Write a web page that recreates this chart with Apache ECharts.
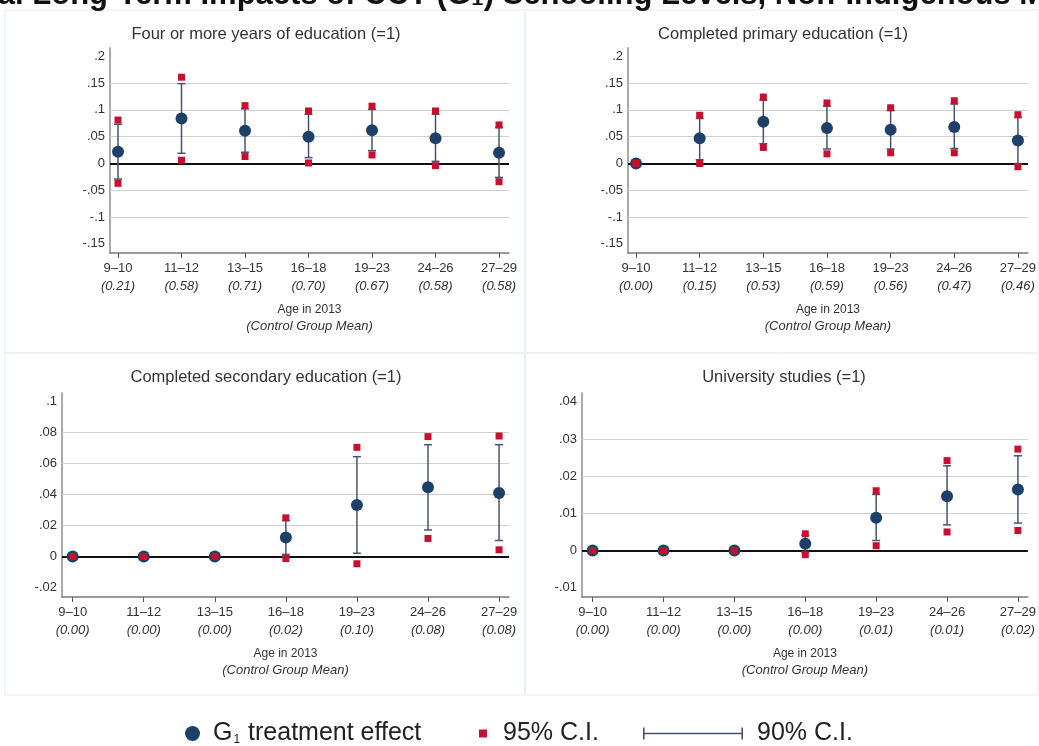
<!DOCTYPE html>
<html>
<head>
<meta charset="utf-8">
<script src="https://cdn.jsdelivr.net/npm/echarts@6/dist/echarts.min.js"></script>
<style>
  html, body { margin: 0; background: #fff; }
  #chart { width: 1039px; height: 746px; }
</style>
</head>
<body>
<div id="chart"></div>
<script>
const ages = ['9–10', '11–12', '13–15', '16–18', '19–23', '24–26', '27–29']
const agePos = [1, 2, 3, 4, 5, 6, 7]

// Four or more years of education (=1)
const fourEst  = [0.022, 0.084, 0.061, 0.050, 0.062, 0.047, 0.020]
const four95Lo = [-0.037, 0.006, 0.013, 0.001, 0.016, -0.004, -0.034]
const four95Hi = [0.081, 0.161, 0.108, 0.098, 0.107, 0.098, 0.072]
const four90Lo = [-0.029, 0.019, 0.021, 0.011, 0.024, 0.004, -0.026]
const four90Hi = [0.073, 0.149, 0.102, 0.092, 0.101, 0.092, 0.067]
const fourMean = ['0.21', '0.58', '0.71', '0.70', '0.67', '0.58', '0.58']

// Completed primary education (=1)
const primEst  = [0, 0.047, 0.078, 0.066, 0.063, 0.068, 0.043]
const prim95Lo = [0, 0.000, 0.030, 0.018, 0.020, 0.020, -0.006]
const prim95Hi = [0, 0.090, 0.124, 0.113, 0.104, 0.117, 0.091]
const prim90Lo = [0, 0.007, 0.037, 0.027, 0.027, 0.028, 0.000]
const prim90Hi = [0, 0.084, 0.118, 0.107, 0.099, 0.111, 0.086]
const primMean = ['0.00', '0.15', '0.53', '0.59', '0.56', '0.47', '0.46']

// Completed secondary education (=1)
const secEst  = [0, 0, 0, 0.0122, 0.0332, 0.0446, 0.0409]
const sec95Lo = [0, 0, 0, -0.0013, -0.0047, 0.0116, 0.0043]
const sec95Hi = [0, 0, 0, 0.0249, 0.0703, 0.0772, 0.0776]
const sec90Lo = [0, 0, 0, 0.0013, 0.0021, 0.0171, 0.0103]
const sec90Hi = [0, 0, 0, 0.0232, 0.0643, 0.0720, 0.0720]
const secMean = ['0.00', '0.00', '0.00', '0.02', '0.10', '0.08', '0.08']

// University studies (=1)
const uniEst  = [0, 0, 0, 0.0018, 0.0088, 0.0146, 0.0164]
const uni95Lo = [0, 0, 0, -0.0011, 0.0013, 0.0050, 0.0054]
const uni95Hi = [0, 0, 0, 0.0045, 0.0161, 0.0242, 0.0273]
const uni90Lo = [0, 0, 0, -0.0005, 0.0027, 0.0069, 0.0074]
const uni90Hi = [0, 0, 0, 0.0041, 0.0151, 0.0228, 0.0255]
const uniMean = ['0.00', '0.00', '0.00', '0.00', '0.01', '0.01', '0.02']

// y tick values and their Stata-style labels
const topTicks = [-0.15, -0.1, -0.05, 0, 0.05, 0.1, 0.15, 0.2]
const topTickLabels = ['-.15', '-.1', '-.05', '0', '.05', '.1', '.15', '.2']
const secTicks = [-0.02, 0, 0.02, 0.04, 0.06, 0.08, 0.1]
const secTickLabels = ['-.02', '0', '.02', '.04', '.06', '.08', '.1']
const uniTicks = [-0.01, 0, 0.01, 0.02, 0.03, 0.04]
const uniTickLabels = ['-.01', '0', '.01', '.02', '.03', '.04']

const NAVY = '#1c4068'
const RED = '#c8102e'
const BAR = '#47546f'
const FONT = '"Liberation Sans", Arial, sans-serif'

const panels = [
  { title: 'Four or more years of education (=1)', est: fourEst, lo95: four95Lo, hi95: four95Hi, lo90: four90Lo, hi90: four90Hi, mean: fourMean,
    ticks: topTicks, tickLabels: topTickLabels, ymin: -0.167, ymax: 0.2155, xmin: 0.874, xmax: 7.157,
    grid: { left: 110, right: 530, top: 48, bottom: 493 }, center: 266, titleTop: 26 },
  { title: 'Completed primary education (=1)', est: primEst, lo95: prim95Lo, hi95: prim95Hi, lo90: prim90Lo, hi90: prim90Hi, mean: primMean,
    ticks: topTicks, tickLabels: topTickLabels, ymin: -0.167, ymax: 0.2155, xmin: 0.874, xmax: 7.157,
    grid: { left: 628, right: 11, top: 48, bottom: 493 }, center: 783, titleTop: 26 },
  { title: 'Completed secondary education (=1)', est: secEst, lo95: sec95Lo, hi95: sec95Hi, lo90: sec90Lo, hi90: sec90Hi, mean: secMean,
    ticks: secTicks, tickLabels: secTickLabels, ymin: -0.0261, ymax: 0.1053, xmin: 0.85, xmax: 7.14,
    grid: { left: 62, right: 530, top: 393, bottom: 149 }, center: 266, titleTop: 369 },
  { title: 'University studies (=1)', est: uniEst, lo95: uni95Lo, hi95: uni95Hi, lo90: uni90Lo, hi90: uni90Hi, mean: uniMean,
    ticks: uniTicks, tickLabels: uniTickLabels, ymin: -0.0125, ymax: 0.0424, xmin: 0.85, xmax: 7.14,
    grid: { left: 582, right: 11, top: 393, bottom: 149 }, center: 784, titleTop: 369 }
]

const ciBar = (params, api) => {
  const x = api.value(0)
  const lo = api.coord([x, api.value(1)])
  const hi = api.coord([x, api.value(2)])
  const cap = 4
  const style = { stroke: BAR, lineWidth: 1.5 }
  return {
    type: 'group',
    children: [
      { type: 'line', shape: { x1: lo[0], y1: lo[1], x2: hi[0], y2: hi[1] }, style },
      { type: 'line', shape: { x1: lo[0] - cap, y1: lo[1], x2: lo[0] + cap, y2: lo[1] }, style },
      { type: 'line', shape: { x1: hi[0] - cap, y1: hi[1], x2: hi[0] + cap, y2: hi[1] }, style }
    ]
  }
}

const grids = []
const xAxes = []
const yAxes = []
const titles = []
const series = []

panels.forEach((p, i) => {
  grids.push(p.grid)
  titles.push({
    text: p.title, left: p.center, top: p.titleTop, textAlign: 'center', padding: 0,
    textStyle: { fontSize: 16.5, fontWeight: 'normal', color: '#333', fontFamily: FONT }
  })
  xAxes.push({
    gridIndex: i, type: 'value', min: p.xmin, max: p.xmax,
    axisLine: { onZero: false, lineStyle: { color: '#7a7a7a', width: 1.5 } },
    axisTick: { customValues: agePos, length: 5, lineStyle: { color: '#555' } },
    splitLine: { show: false },
    axisLabel: {
      customValues: agePos, margin: 6,
      formatter: v => '{n|' + ages[v - 1] + '}\n{i|(' + p.mean[v - 1] + ')}',
      rich: {
        n: { fontSize: 13, lineHeight: 18, color: '#333', fontFamily: FONT },
        i: { fontSize: 13, lineHeight: 18, color: '#333', fontStyle: 'italic', fontFamily: FONT }
      }
    },
    name: '{a|Age in 2013}\n{b|(Control Group Mean)}',
    nameLocation: 'middle', nameGap: 49,
    nameTextStyle: {
      rich: {
        a: { fontSize: 12, lineHeight: 16, color: '#333', fontFamily: FONT },
        b: { fontSize: 13, lineHeight: 16, color: '#333', fontStyle: 'italic', fontFamily: FONT }
      }
    }
  })
  yAxes.push({
    gridIndex: i, type: 'value', min: p.ymin, max: p.ymax,
    axisLine: { show: true, onZero: false, lineStyle: { color: '#aaa', width: 2 } },
    axisTick: { show: false },
    splitLine: { show: false },
    axisLabel: {
      customValues: p.ticks, margin: 5, fontSize: 13, color: '#333', fontFamily: FONT,
      formatter: v => {
        const k = p.ticks.findIndex(t => Math.abs(t - v) < 1e-9)
        return k >= 0 ? p.tickLabels[k] : ''
      }
    }
  })

  const gridLines = p.ticks.slice(1, -1).filter(t => t !== 0)

  series.push({
    name: '90% C.I.', type: 'custom', xAxisIndex: i, yAxisIndex: i, z: 6,
    renderItem: ciBar,
    encode: { x: 0, y: [1, 2] },
    itemStyle: { color: BAR },
    data: agePos.map((x, k) => [x, p.lo90[k], p.hi90[k]])
  })
  series.push({
    name: 'G₁ treatment effect', type: 'scatter', xAxisIndex: i, yAxisIndex: i, z: 7,
    symbol: 'circle', symbolSize: 12,
    itemStyle: { color: NAVY, opacity: 1 },
    data: agePos.map((x, k) => [x, p.est[k]]),
    markLine: {
      silent: true, symbol: 'none', label: { show: false }, animation: false,
      data: gridLines.map(v => ({ yAxis: v, lineStyle: { color: '#cfcfcf', width: 1.2, type: 'solid' } }))
        .concat([{ yAxis: 0, lineStyle: { color: '#111', width: 2, type: 'solid' } }])
    }
  })
  series.push({
    name: '95% C.I.', type: 'scatter', xAxisIndex: i, yAxisIndex: i, z: 8,
    symbol: 'rect', symbolSize: 7,
    itemStyle: { color: RED, opacity: 1 },
    data: agePos.map((x, k) => [x, p.lo95[k]]).concat(agePos.map((x, k) => [x, p.hi95[k]]))
  })
})

const legendText = { fontSize: 25, color: '#222', fontFamily: FONT }

const chart = echarts.init(document.getElementById('chart'))
chart.setOption({
  animation: false,
  textStyle: { fontFamily: FONT },
  title: titles,
  grid: grids,
  xAxis: xAxes,
  yAxis: yAxes,
  legend: [
    {
      data: [{ name: 'G₁ treatment effect', icon: 'circle', itemStyle: { color: NAVY } }],
      left: 185, top: 721, padding: 0, itemWidth: 15, itemHeight: 15, selectedMode: false,
      formatter: () => '{a|G}{s|1}{a| treatment effect}',
      textStyle: {
        padding: [0, 0, 0, 8],
        rich: {
          a: { fontSize: 25, color: '#222', fontFamily: FONT },
          s: { fontSize: 12, color: '#222', fontFamily: FONT, padding: [12, 1, 0, 1] }
        }
      }
    },
    {
      data: [{ name: '95% C.I.', icon: 'rect', itemStyle: { color: RED } }],
      left: 479, top: 721, padding: 0, itemWidth: 8, itemHeight: 8, selectedMode: false,
      textStyle: Object.assign({ padding: [0, 0, 0, 11] }, legendText)
    },
    {
      data: [{
        name: '90% C.I.',
        icon: 'path://M0,0H1.6V12H0Z M0,5.2H100V6.8H0Z M98.4,0H100V12H98.4Z',
        itemStyle: { color: BAR }
      }],
      left: 643, top: 721, padding: 0, itemWidth: 100, itemHeight: 12, selectedMode: false, symbolKeepAspect: false,
      textStyle: Object.assign({ padding: [0, 0, 0, 9] }, legendText)
    }
  ],
  graphic: [
    { type: 'rect', shape: { x: 5, y: 10, width: 520, height: 343 }, style: { fill: 'none', stroke: '#e6eeee' }, silent: true },
    { type: 'rect', shape: { x: 525, y: 10, width: 513, height: 343 }, style: { fill: 'none', stroke: '#e6eeee' }, silent: true },
    { type: 'rect', shape: { x: 5, y: 353, width: 520, height: 342 }, style: { fill: 'none', stroke: '#e6eeee' }, silent: true },
    { type: 'rect', shape: { x: 525, y: 353, width: 513, height: 342 }, style: { fill: 'none', stroke: '#e6eeee' }, silent: true },
    {
      type: 'text', x: -121, y: -5, silent: true,
      style: {
        text: 'Individual Long-Term Impacts of CCT (G₁) Schooling Levels, Non-Indigenous Males',
        font: 'bold 31px "Liberation Sans", Arial, sans-serif', fill: '#111', verticalAlign: 'middle'
      }
    }
  ],
  series
})
</script>
</body>
</html>
